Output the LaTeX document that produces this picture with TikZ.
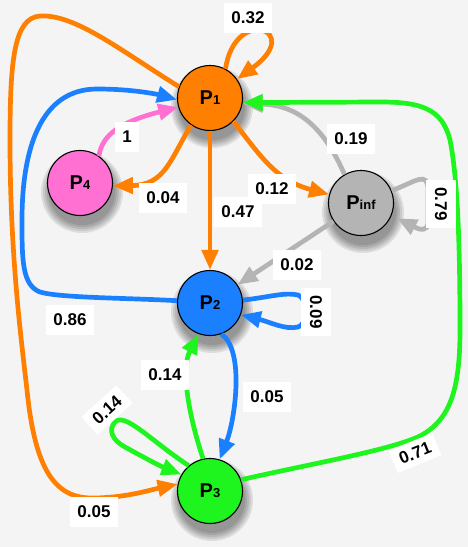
\documentclass[tikz,border=0pt]{standalone}
\usepackage{fontspec}
\setsansfont{Liberation Sans}
\usetikzlibrary{arrows.meta}
\definecolor{bgc}{HTML}{F4F4F4}
\definecolor{cor}{HTML}{FF8000}
\definecolor{cbl}{HTML}{1A80FF}
\definecolor{cpk}{HTML}{FF70D2}
\definecolor{cgy}{HTML}{B4B4B4}
\definecolor{cgr}{HTML}{1EF51E}
\newcommand\Plab[1]{{\fontsize{20}{20}\selectfont P}{\fontsize{13}{13}\selectfont #1}}
\newcommand\nshadow[1]{%
  \foreach \rr in {41,39,37,35,33} {\fill[black, opacity=0.09] #1 circle[radius=\rr];}}
\begin{document}
\begin{tikzpicture}[x=1pt,y=-1pt,
  st/.style={circle, draw=black, line width=1.1pt, minimum size=65pt, inner sep=0pt,
    font=\sffamily\bfseries},
  ed/.style={line width=4.7pt, -{Triangle[length=20pt,width=16pt]}},
  lb/.style={fill=white, font=\sffamily\bfseries\fontsize{17}{17}\selectfont, inner xsep=7pt, inner ysep=9pt}]
\fill[bgc] (0,0) rectangle (468,547);
\useasboundingbox (0,0) rectangle (468,547);

\nshadow{(212,107)}
\nshadow{(82,192)}
\nshadow{(363,212)}
\nshadow{(212,312)}
\nshadow{(212,500)}

\node[st, fill=cor] (P1) at (210,98) {\Plab{1}};
\node[st, fill=cpk] (P4) at (80,183) {\Plab{4}};
\node[st, fill=cgy] (Pinf) at (361,203) {\Plab{inf}};
\node[st, fill=cbl] (P2) at (210,303) {\Plab{2}};
\node[st, fill=cgr] (P3) at (210,491) {\Plab{3}};

% P1 self loop
\draw[ed, cor] (P1.62) .. controls (235,5) and (305,30) .. (P1.35);
% P1 -> P3 big left loop
\draw[ed, cor] (P1.160) .. controls (120,50) and (75,14) .. (40,16)
  .. controls (14,18) and (10,60) .. (10,140)
  .. controls (10,250) and (20,330) .. (27,390)
  .. controls (35,470) and (55,498) .. (92,498)
  .. controls (125,498) and (150,490) .. (P3.168);
% P2 -> P1 blue
\draw[ed, cbl] (P2.176) .. controls (130,298) and (60,298) .. (40,292)
  .. controls (22,285) and (22,260) .. (22,220)
  .. controls (22,150) and (40,89) .. (97,89)
  .. controls (135,89) and (160,95) .. (P1.183);
% P4 -> P1 pink
\draw[ed, cpk] (P4.55) .. controls (102,135) and (120,122) .. (P1.196);
% P1 -> P4
\draw[ed, cor] (P1.235) .. controls (170,160) and (165,185) .. (P4.355);
% P1 -> P2
\draw[ed, cor] (P1) -- (P2);
% P1 -> Pinf
\draw[ed, cor] (P1.-45) .. controls (260,155) and (275,180) .. (Pinf.165);
% Pinf -> P1
\draw[ed, cgy] (Pinf.120) .. controls (325,130) and (300,105) .. (P1.-10);
% Pinf self loop
\draw[ed, cgy, shorten >=6pt] (Pinf.22) .. controls (415,182) and (428,170) .. (428,190)
  -- (428,222) .. controls (428,232) and (420,230) .. (Pinf.-22);
% Pinf -> P2
\draw[ed, cgy] (Pinf) -- (P2);
% P2 self loop
\draw[ed, cbl] (P2.5) .. controls (270,297) and (285,292) .. (298,295)
  .. controls (308,298) and (308,325) .. (298,327)
  .. controls (285,330) and (270,322) .. (P2.-21);
% P2 -> P3
\draw[ed, cbl] (P2.-70) .. controls (245,350) and (235,420) .. (P3.73);
% P3 -> P2
\draw[ed, cgr] (P3.102) .. controls (190,420) and (180,370) .. (P2.-110);
% P3 self loop
\draw[ed, cgr] (P3.130) .. controls (150,440) and (125,412) .. (115,422)
  .. controls (108,430) and (112,440) .. (125,447)
  .. controls (145,458) and (160,466) .. (P3.150);
% P3 -> P1 big right
\draw[ed, cgr] (P3.20) .. controls (320,462) and (390,450) .. (420,436)
  .. controls (450,420) and (460,390) .. (460,330)
  .. controls (460,250) and (458,180) .. (450,140)
  .. controls (442,108) and (420,102) .. (380,102)
  -- (P1.-8);

% labels
\node[lb] (l1) at (248,18) {0.32};
\node[lb] (l2) at (127,137) {1};
\node[lb] (l3) at (163,198) {0.04};
\node[lb] (l4) at (238,212) {0.47};
\node[lb] (l5) at (272,189) {0.12};
\node[lb] (l6) at (351,139) {0.19};
\node[lb, rotate=-90] (l7) at (441,204) {0.79};
\node[lb] (l8) at (297,265) {0.02};
\node[lb] (l9) at (70,320) {0.86};
\node[lb, rotate=-90] (l10) at (316,312) {0.09};
\node[lb] (l11) at (165,375) {0.14};
\node[lb] (l12) at (267,397) {0.05};
\node[lb, rotate=42, inner ysep=6pt] (l13) at (107,410) {0.14};
\node[lb] (l14) at (94,512) {0.05};
\node[lb, rotate=22, inner ysep=6pt] (l15) at (415,453) {0.71};
\end{tikzpicture}
\end{document}
